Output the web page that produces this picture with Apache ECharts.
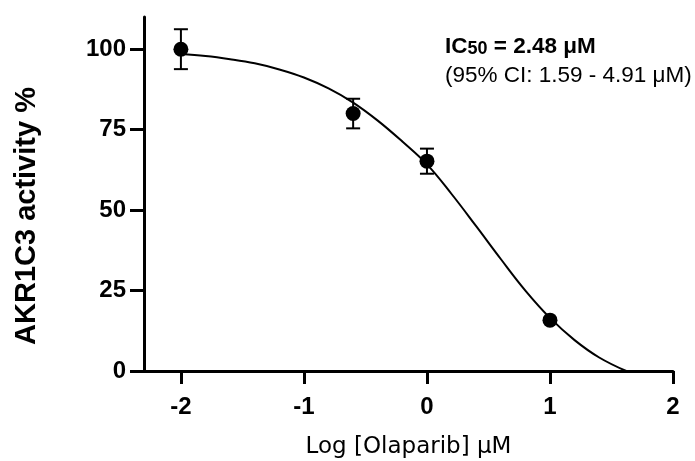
<!DOCTYPE html>
<html>
<head>
<meta charset="utf-8">
<script src="https://cdn.jsdelivr.net/npm/echarts@6/dist/echarts.min.js"></script>
<style>
  html, body { margin: 0; padding: 0; background: #fff; }
  #main { width: 695px; height: 461px; }
</style>
</head>
<body>
<div id="main"></div>
<script>
// measured points (log dose, activity %, error)
var doseLog = [-2, -0.6, 0, 1];
var activity = [100, 80, 65.2, 15.8];
var errBar = [6.2, 4.6, 3.9, 0.4];

// fitted curve
var fitX = [-2, -1.8, -1.6, -1.4, -1.2, -1.0, -0.8, -0.6, -0.4, -0.2, 0, 0.2, 0.4, 0.6, 0.8, 1.0, 1.2, 1.4, 1.62];
var fitY = [98.5, 97.9, 96.9, 95.6, 93.7, 91.2, 87.8, 83.4, 77.8, 71.3, 64.2, 55, 45, 34.8, 25, 16.5, 9.6, 4.2, 0];

var xTicks = [-2, -1, 0, 1, 2];
var yTicks = [0, 25, 50, 75, 100];

var chart = echarts.init(document.getElementById('main'));

var points = doseLog.map(function (x, i) { return [x, activity[i]]; });
var bars = doseLog.map(function (x, i) { return [x, activity[i] - errBar[i], activity[i] + errBar[i]]; });
var curve = fitX.map(function (x, i) { return [x, fitY[i]]; });

var option = {
  animation: false,
  grid: {
    left: 144, right: 22, top: 17, bottom: 90,
    containLabel: false,
    outerBoundsMode: 'none'
  },
  xAxis: {
    type: 'value',
    min: -2.3,
    max: 2,
    splitLine: { show: false },
    axisLine: { onZero: false, lineStyle: { color: '#000', width: 3 } },
    axisTick: { customValues: xTicks, length: 13, lineStyle: { color: '#000', width: 3 } },
    axisLabel: {
      customValues: xTicks,
      margin: 24,
      color: '#000',
      fontFamily: 'Liberation Sans',
      fontWeight: 'bold',
      fontSize: 24
    },
    name: 'Log [Olaparib] \u03bcM',
    nameLocation: 'middle',
    nameGap: 65,
    nameTextStyle: { color: '#000', fontFamily: 'DejaVu Sans', fontSize: 23 }
  },
  yAxis: {
    type: 'value',
    min: 0,
    max: 110,
    splitLine: { show: false },
    axisLine: { onZero: false, lineStyle: { color: '#000', width: 3 } },
    axisTick: { customValues: yTicks, length: 14, lineStyle: { color: '#000', width: 3 } },
    axisLabel: {
      customValues: yTicks,
      margin: 18,
      color: '#000',
      fontFamily: 'Liberation Sans',
      fontWeight: 'bold',
      fontSize: 24
    }
  },
  graphic: [
    {
      type: 'text',
      x: 27, y: 216,
      rotation: Math.PI / 2,
      style: {
        text: 'AKR1C3 activity %',
        fill: '#000',
        font: 'bold 29px "Liberation Sans"',
        textAlign: 'center',
        textVerticalAlign: 'middle'
      }
    },
    {
      type: 'text',
      left: 445, top: 35,
      style: {
        text: '{b|IC}{s|50}{b| = 2.48 \u03bcM}',
        rich: {
          b: { fontFamily: 'Liberation Sans', fontWeight: 'bold', fontSize: 22.5, fill: '#000', verticalAlign: 'bottom' },
          s: { fontFamily: 'Liberation Sans', fontWeight: 'bold', fontSize: 18, fill: '#000', verticalAlign: 'bottom' }
        }
      }
    },
    {
      type: 'text',
      left: 445, top: 64,
      style: {
        text: '(95% CI: 1.59 - 4.91 \u03bcM)',
        fill: '#000',
        font: '22.5px "Liberation Sans"'
      }
    }
  ],
  series: [
    {
      type: 'line',
      data: curve,
      smooth: 0.4,
      showSymbol: false,
      lineStyle: { color: '#000', width: 2 },
      z: 2
    },
    {
      type: 'custom',
      data: bars,
      z: 3,
      renderItem: function (params, api) {
        var lo = api.coord([api.value(0), api.value(1)]);
        var hi = api.coord([api.value(0), api.value(2)]);
        var w = 7;
        var st = { stroke: '#000', lineWidth: 2 };
        return {
          type: 'group',
          children: [
            { type: 'line', shape: { x1: hi[0], y1: hi[1], x2: lo[0], y2: lo[1] }, style: st },
            { type: 'line', shape: { x1: hi[0] - w, y1: hi[1], x2: hi[0] + w, y2: hi[1] }, style: st },
            { type: 'line', shape: { x1: lo[0] - w, y1: lo[1], x2: lo[0] + w, y2: lo[1] }, style: st }
          ]
        };
      }
    },
    {
      type: 'scatter',
      data: points,
      symbol: 'circle',
      symbolSize: 15,
      itemStyle: { color: '#000', opacity: 1 },
      z: 4
    }
  ]
};

chart.setOption(option);
</script>
</body>
</html>
